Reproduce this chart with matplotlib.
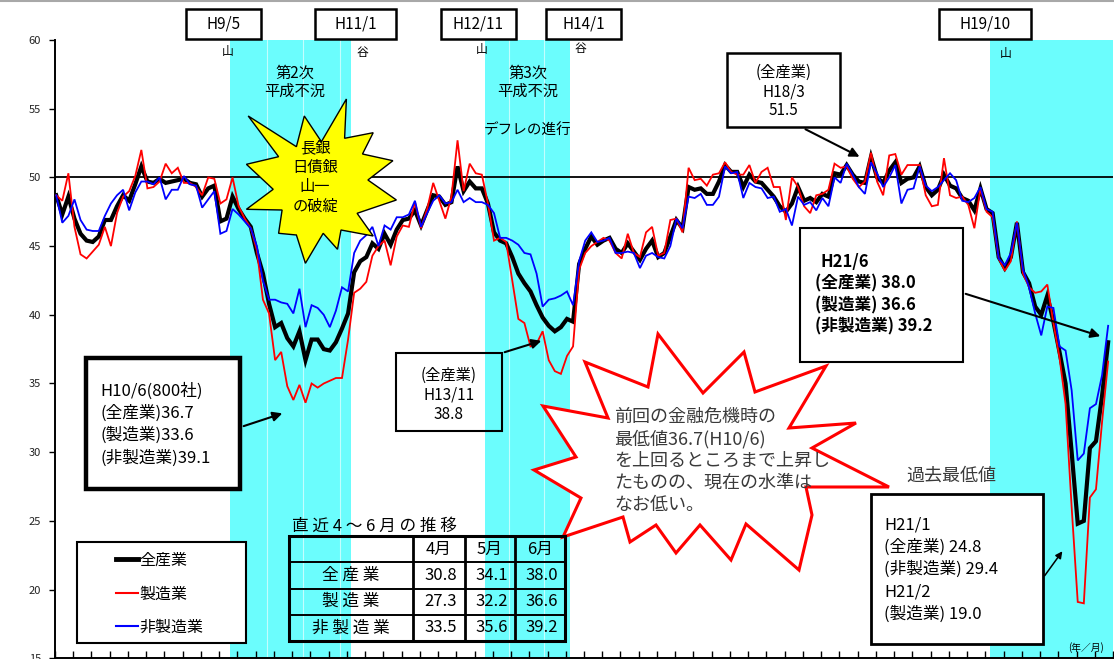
import numpy as np
import pandas as pd
import matplotlib
matplotlib.use("Agg")
import matplotlib.pyplot as plt
from matplotlib.patches import Rectangle, Polygon, FancyArrowPatch
from matplotlib.lines import Line2D
from matplotlib.transforms import Affine2D

plt.rcParams['font.family'] = ['Noto Sans CJK JP', 'DejaVu Sans']

# monthly DI, H7/1 .. H21/6
months = pd.period_range("1995-01", "2009-06", freq="M")

all_ind = [
    48.7, 47.3, 48.6, 47.0, 45.9, 45.4, 45.3, 45.7, 46.9, 46.9,
    47.9, 48.7, 48.3, 49.5, 50.8, 49.7, 49.6, 49.9, 49.6, 49.7,
    49.8, 49.9, 49.6, 49.5, 48.6, 49.2, 49.4, 46.8, 47.0, 48.6,
    47.7, 47.0, 46.4, 44.5, 43.0, 40.8, 39.1, 39.4, 38.3, 37.7,
    38.8, 36.7, 38.2, 38.2, 37.5, 37.4, 38.0, 39.0, 40.1, 43.1,
    43.9, 44.2, 45.2, 44.8, 45.9, 45.1, 46.2, 46.9, 47.0, 47.6,
    46.5, 47.6, 48.7, 48.6, 48.0, 48.2, 50.8, 49.0, 49.7, 49.2,
    49.2, 48.1, 46.0, 45.4, 45.2, 44.2, 43.0, 42.3, 41.7, 40.7,
    39.8, 39.2, 38.8, 39.1, 39.7, 39.5, 43.7, 44.8, 45.7, 45.1,
    45.4, 45.6, 44.8, 44.5, 45.2, 44.6, 44.0, 44.8, 45.4, 44.2,
    44.5, 45.7, 46.9, 46.3, 49.3, 49.1, 49.2, 48.8, 48.8, 49.7,
    50.9, 50.4, 50.4, 49.3, 50.2, 49.7, 49.6, 49.1, 48.6, 47.9,
    47.5, 48.1, 49.3, 48.3, 48.5, 48.2, 48.8, 48.6, 50.3, 50.2,
    50.9, 50.2, 49.7, 49.6, 51.5, 50.0, 49.6, 50.5, 51.1, 49.6,
    49.9, 50.0, 50.8, 49.3, 48.7, 49.1, 50.2, 49.4, 49.2, 48.5,
    48.3, 47.6, 49.2, 47.7, 47.4, 44.2, 43.4, 44.2, 46.7, 43.1,
    42.3, 40.6, 40.0, 41.4, 39.5, 37.3, 35.0, 30.0, 24.8, 25.0,
    30.3, 30.8, 34.1, 38.0,
]

manuf = [
    48.7, 48.3, 50.3, 46.4, 44.4, 44.1, 44.6, 45.1, 46.4, 45.0,
    47.4, 48.6, 49.0, 50.1, 52.0, 49.2, 49.3, 49.7, 51.0, 50.3,
    50.7, 49.6, 49.6, 49.3, 48.7, 50.0, 49.9, 48.1, 48.4, 50.0,
    47.9, 47.0, 46.3, 44.7, 41.1, 40.1, 36.7, 37.3, 34.8, 33.8,
    34.9, 33.6, 35.0, 34.7, 35.0, 35.2, 35.4, 35.4, 38.2, 41.6,
    41.9, 42.4, 44.3, 45.0, 45.4, 43.6, 45.7, 46.5, 46.4, 48.2,
    46.3, 47.7, 49.6, 48.3, 47.0, 48.6, 52.7, 49.0, 51.0, 50.3,
    50.2, 48.1, 45.4, 45.6, 45.3, 42.5, 39.7, 39.4, 37.7, 37.9,
    38.8, 36.7, 35.9, 35.7, 37.0, 37.7, 43.3, 44.5, 45.0, 45.3,
    45.6, 45.4, 44.5, 44.1, 45.9, 44.5, 44.2, 46.0, 46.4, 44.3,
    44.5, 46.9, 47.0, 46.0, 50.7, 49.8, 49.9, 49.4, 50.2, 50.3,
    51.1, 50.4, 50.2, 50.2, 50.9, 49.6, 50.4, 50.7, 49.3, 49.3,
    46.9, 50.0, 49.3, 47.9, 47.4, 48.7, 48.8, 49.1, 51.0, 50.7,
    50.8, 49.9, 49.3, 49.7, 51.8, 49.7, 48.7, 51.6, 51.7, 50.2,
    50.9, 50.9, 50.9, 48.7, 47.9, 48.0, 51.4, 48.7, 48.5, 48.6,
    48.0, 46.3, 49.2, 47.5, 47.1, 44.1, 43.2, 43.9, 46.8, 43.0,
    42.0, 41.6, 41.7, 42.2, 39.4, 36.9, 33.5, 26.0, 19.1, 19.0,
    26.7, 27.3, 32.2, 36.6,
]

non_manuf = [
    48.7, 46.7, 47.2, 48.4, 46.9, 46.2, 46.1, 46.1, 47.2, 48.1,
    48.7, 49.1, 47.6, 48.9, 49.7, 49.7, 49.5, 50.0, 48.4, 49.1,
    49.1, 50.1, 49.5, 49.4, 47.8, 48.4, 49.0, 45.9, 46.1, 47.7,
    47.3, 46.8, 46.3, 45.0, 42.5, 41.1, 41.1, 40.9, 40.8, 40.1,
    41.9, 39.1, 40.7, 40.5, 40.0, 39.1, 40.3, 42.0, 41.7, 44.5,
    45.4, 45.8, 46.4, 45.0, 46.5, 46.2, 47.1, 47.1, 47.3, 48.3,
    46.4, 47.4, 48.3, 48.7, 48.1, 48.2, 49.1, 48.2, 48.5, 48.2,
    48.2, 48.0, 47.4, 45.6, 45.6, 45.4, 45.1, 44.5, 44.4, 43.0,
    40.6, 41.1, 41.2, 41.4, 41.7, 40.7, 43.9, 45.4, 46.0, 45.3,
    45.4, 45.6, 44.5, 44.5, 44.6, 44.5, 43.4, 44.3, 44.5, 44.2,
    44.1, 45.0, 47.0, 46.3, 48.6, 48.5, 48.8, 48.0, 48.0, 48.6,
    50.8, 50.3, 50.4, 48.5, 49.6, 49.3, 49.2, 48.5, 48.6, 47.5,
    47.7, 46.5, 48.6, 48.0, 48.2, 47.6, 48.5, 47.9, 50.0, 49.6,
    51.0, 50.2, 49.3, 48.8, 51.1, 50.3, 49.3, 50.0, 50.9, 48.1,
    49.1, 49.2, 50.8, 49.4, 49.0, 49.3, 49.8, 50.3, 49.8, 48.3,
    48.2, 48.5, 49.3, 47.7, 47.5, 44.1, 43.6, 44.5, 46.7, 43.3,
    42.0, 40.1, 38.5, 40.6, 40.5, 37.7, 37.4, 34.5, 29.4, 29.9,
    33.2, 33.5, 35.6, 39.2,
]

series_names = ["全産業", "製造業", "非製造業"]
series_colors = ["black", "#ff0000", "#0000ff"]
series_widths = [3.0, 1.3, 1.3]

# business cycle peak / trough months
recessions = [("1997-05", "1999-01"), ("2000-11", "2002-01"), ("2007-10", None)]

W, H = 1114, 659
fig = plt.figure(figsize=(W / 100, H / 100), dpi=100)
# pixel coordinates, origin top-left
PX = Affine2D().scale(1 / W, -1 / H).translate(0, 1) + fig.transFigure

ax = fig.add_axes([55 / W, (H - 658.3) / H, (1113 - 55) / W, (658.3 - 40) / H])
x = np.arange(len(months))
pos = {str(p): k for k, p in enumerate(months)}


def heisei(p):
    p = pd.Period(p, freq="M")
    return f"H{p.year - 1988}/{p.month}"


CYAN = "#6bfdfd"
for start, end in recessions:
    x0 = pos[start] + 0.5
    x1 = pos[end] + 0.5 if end else len(months) + 1
    ax.axvspan(x0, x1, color=CYAN, lw=0, zorder=0)
for xv in [34.6, 40.6, 46.7, 74.5, 80.3]:
    ax.axvline(xv, color="white", lw=0.8, alpha=0.6, zorder=0.5)

ax.axhline(50, color="black", lw=1.3, zorder=1)

for vals, c, lw, z in zip([all_ind, manuf, non_manuf], series_colors,
                          series_widths, [3, 4, 5]):
    ax.plot(x, vals, color=c, lw=lw, zorder=z, solid_joinstyle="miter")

ax.set_xlim(-0.16, 173.3)
ax.set_ylim(15, 60)
ax.set_yticks(np.arange(15, 61, 5))
ax.set_xticks(np.arange(-0.2, 174, 3))
ax.set_xticklabels([])
ax.tick_params(axis="y", direction="out", length=4, width=1, labelsize=8,
               pad=6, labelcolor="#222222")
ax.tick_params(axis="x", direction="in", length=5, width=1)
for s in ["top", "right"]:
    ax.spines[s].set_visible(False)
ax.spines["left"].set_linewidth(1.4)
ax.spines["bottom"].set_linewidth(1.4)
ax.patch.set_alpha(0)

# ---- annotations in pixel space ----
def box(x0, y0, x1, y1, lw=1.5, fill="white", z=2):
    r = Rectangle((x0, y0), x1 - x0, y1 - y0, transform=PX, lw=lw,
                  edgecolor="black", facecolor=fill if fill else "none",
                  zorder=z)
    fig.add_artist(r)


def txt(xp, yp, s, **kw):
    kw.setdefault("va", "center")
    kw.setdefault("zorder", 6)
    fig.text(xp, yp, s, transform=PX, **kw)


def arrow(a, b, lw=1.5, ms=14):
    fig.add_artist(FancyArrowPatch(a, b, transform=PX, arrowstyle="-|>",
                                   mutation_scale=ms, lw=lw, color="black",
                                   zorder=6))


# turning point boxes along the top
turns = [("1997-05", "山"), ("1999-01", "谷"), ("2000-11", "山"),
         ("2002-01", "谷"), ("2007-10", "山")]
box_cx = [223.5, 355.5, 478.5, 583.5, 985]
box_w = [75, 81, 75, 75, 92]
mark_xy = [(228, 52), (362, 52), (482, 49), (580, 48), (1006, 53)]
for (m, kind), cx, bw, (mx, my) in zip(turns, box_cx, box_w, mark_xy):
    box(cx - bw / 2, 8.5, cx + bw / 2, 39, lw=1.8)
    txt(cx, 24, heisei(m), ha="center", fontsize=11)
    txt(mx, my, kind, ha="center", fontsize=8.5)

txt(295, 73, "第2次", ha="center", fontsize=11)
txt(295, 91, "平成不況", ha="center", fontsize=11)
txt(528, 73, "第3次", ha="center", fontsize=11)
txt(528, 91, "平成不況", ha="center", fontsize=11)
txt(528, 131, "デフレの進行", ha="center", fontsize=10.5)

# yellow burst
star_y = [(248.2, 116), (296.4, 146.7), (304.3, 116), (321.4, 141.7),
          (346.4, 99), (344.6, 138.3), (373.2, 132.7), (362.5, 154),
          (392.9, 160.7), (367.9, 180), (396.4, 200), (357.1, 213.3),
          (373.2, 236), (341, 230), (337.5, 249.3), (323.2, 233.3),
          (305.4, 263.3), (296.4, 235), (278.6, 233.3), (282.1, 210),
          (246.4, 209.3), (273.2, 189.3), (246.4, 164.3), (278.6, 156.7)]
fig.add_artist(Polygon(star_y, closed=True, transform=PX, facecolor="#ffff00",
                       edgecolor="black", lw=1.0, zorder=2))
for k, s in enumerate(["長銀", "日債銀", "山一", "の破綻"]):
    txt(315, 148 + k * 19.5, s, ha="center", fontsize=11)

# red burst
star_r = [(658, 334), (648, 387), (585, 362), (608, 418), (543, 406),
          (576, 457), (534, 470), (581, 498), (563, 537), (623, 517),
          (630, 542), (656, 525), (676, 553), (700, 525), (731, 560),
          (746, 524), (799, 570), (812, 515), (806, 487), (889, 487),
          (812, 448), (856, 423), (789, 428), (826, 366), (755, 392),
          (744, 352), (703, 393)]
fig.add_artist(Polygon(star_r, closed=True, transform=PX, facecolor="white",
                       edgecolor="#ff0000", lw=2.2, zorder=2))
i_h10 = pos["1998-06"]
lines_r = ["前回の金融危機時の",
           f"最低値{all_ind[i_h10]:.1f}({heisei('1998-06')})",
           "を上回るところまで上昇し",
           "たものの、現在の水準は",
           "なお低い。"]
for k, s in enumerate(lines_r):
    txt(614, 417 + k * 22, s, ha="left", fontsize=13, color="#3a3a3a")

# H10/6 trough box
box(85.7, 358.3, 240, 488.7, lw=3.2)
h10 = [f"{heisei('1998-06')}(800社)",
       f"({series_names[0]}){all_ind[i_h10]:.1f}",
       f"({series_names[1]}){manuf[i_h10]:.1f}",
       f"({series_names[2]}){non_manuf[i_h10]:.1f}"]
for k, s in enumerate(h10):
    txt(100, 391 + k * 22.3, s, ha="left", fontsize=12)
arrow((241, 427), (285, 412.5))

# H13/11 box
i_h13 = pos["2001-11"]
box(395.7, 353.3, 501.8, 431, lw=1.5, fill=None)
for k, s in enumerate([f"({series_names[0]})", heisei("2001-11"),
                       f"{all_ind[i_h13]:.1f}"]):
    txt(449, 375 + k * 19.7, s, ha="center", fontsize=11)
arrow((502, 353), (544, 340))

# H18/3 box
i_h18 = pos["2006-03"]
box(727, 52.7, 840, 126.7, lw=1.8)
for k, s in enumerate([f"({series_names[0]})", heisei("2006-03"),
                       f"{all_ind[i_h18]:.1f}"]):
    txt(783.5, 72.7 + k * 19, s, ha="center", fontsize=11)
arrow((803, 128), (862, 158))

# latest month box
last = months[-1]
box(800, 228, 963, 362, lw=1.5)
latest = [heisei(str(last)),
          f"({series_names[0]}) {all_ind[-1]:.1f}",
          f"({series_names[1]}) {manuf[-1]:.1f}",
          f"({series_names[2]}) {non_manuf[-1]:.1f}"]
for k, s in enumerate(latest):
    txt(820 if k == 0 else 815, 262 + k * 21.5, s, ha="left", fontsize=12,
        fontweight="bold")
arrow((963, 293), (1103, 337))

# record low box
i_j1 = pos["2009-01"]
i_j2 = pos["2009-02"]
txt(951, 476, "過去最低値", ha="center", fontsize=13, color="#3a3a3a")
box(870.7, 494, 1042.9, 644, lw=2)
lows = [heisei("2009-01"),
        f"({series_names[0]}) {all_ind[i_j1]:.1f}",
        f"({series_names[2]}) {non_manuf[i_j1]:.1f}",
        heisei("2009-02"),
        f"({series_names[1]}) {manuf[i_j2]:.1f}"]
for k, s in enumerate(lows):
    txt(884, 525 + k * 22.2, s, ha="left", fontsize=12)
arrow((1043, 578), (1064, 549), lw=1.1, ms=10)

# legend
box(76.8, 541.7, 246.4, 642.7, lw=1.5)
for k, (name, c, lw) in enumerate(zip(series_names, series_colors,
                                       [3.5, 1.5, 1.5])):
    yy = 559 + k * 33.5
    fig.add_artist(Line2D([116, 138], [yy, yy], transform=PX, color=c, lw=lw,
                          zorder=6))
    txt(139, yy + 1.5, name, ha="left", fontsize=11.5)

# table of the latest three months
txt(292, 526, " ".join("直近4～6月の推移"), ha="left", fontsize=12)
cols = [288.6, 413, 464.5, 514.6, 565]
rows = [536, 562, 588.7, 614.7, 641]
box(cols[0], rows[0], cols[-1], rows[-1], lw=2.2, fill=None)
for cx in cols[1:-1]:
    fig.add_artist(Line2D([cx, cx], [rows[0], rows[-1]], transform=PX,
                          color="black", lw=2.0, zorder=6))
for ry in rows[1:-1]:
    fig.add_artist(Line2D([cols[0], cols[-1]], [ry, ry], transform=PX,
                          color="black", lw=1.4, zorder=6))
for j, p in enumerate(months[-3:]):
    cx = (cols[j + 1] + cols[j + 2]) / 2
    txt(cx, (rows[0] + rows[1]) / 2, f"{p.month}月", ha="center", fontsize=12)
for r, (name, vals) in enumerate(zip(series_names,
                                     [all_ind, manuf, non_manuf])):
    cy = (rows[r + 1] + rows[r + 2]) / 2
    txt((cols[0] + cols[1]) / 2, cy, " ".join(name), ha="center", fontsize=12)
    for j in range(3):
        cx = (cols[j + 1] + cols[j + 2]) / 2
        txt(cx + 2, cy, f"{vals[-3 + j]:.1f}", ha="center", fontsize=12)

txt(1086, 648, "(年／月)", ha="center", fontsize=7)

fig.add_artist(Line2D([0, W], [0.6, 0.6], transform=PX, color="#a8a8a8",
                      lw=1.5))

fig.savefig("out.png", dpi=100)
